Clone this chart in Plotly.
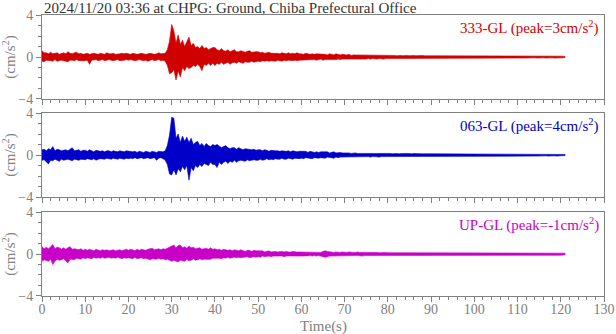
import plotly.graph_objects as go

# Envelope of each record, read every 0.5 s from 0 to 121 s (cm/s^2)
DT = 0.5

ns_hi = [
    0.6,0.4,0.4,0.3,0.45,0.3,0.35,0.4,0.25,0.35,0.4,0.3,0.5,0.35,0.3,0.4,0.45,0.3,0.35,0.25,
    0.3,0.35,0.25,0.3,0.35,0.3,0.25,0.35,0.3,0.25,0.4,0.3,0.3,0.35,0.25,0.25,0.3,0.35,0.3,0.35,
    0.3,0.25,0.35,0.3,0.25,0.3,0.35,0.3,0.25,0.3,0.35,0.3,0.25,0.3,0.4,0.3,0.3,0.35,0.7,1.5,
    3.1,2.5,1.3,2.1,1.2,1.6,1.0,1.4,1.9,1.1,1.3,0.9,1.0,0.8,1.1,0.8,0.9,0.7,0.8,0.9,
    0.9,0.7,0.6,0.8,0.6,0.55,0.7,0.5,0.6,0.7,0.5,0.5,0.6,0.5,0.45,0.55,0.6,0.45,0.5,0.5,
    0.5,0.4,0.45,0.35,0.4,0.45,0.35,0.35,0.4,0.35,0.3,0.4,0.35,0.3,0.4,0.3,0.35,0.3,0.4,0.3,
    0.3,0.25,0.35,0.3,0.25,0.3,0.25,0.3,0.3,0.25,0.3,0.25,0.2,0.3,0.25,0.2,0.3,0.25,0.2,0.25,
    0.2,0.2,0.25,0.15,0.2,0.2,0.2,0.15,0.15,0.2,0.2,0.15,0.2,0.2,0.15,0.2,0.2,0.15,0.2,0.15,
    0.15,0.15,0.2,0.15,0.12,0.15,0.15,0.12,0.15,0.15,0.12,0.15,0.15,0.12,0.15,0.12,0.15,0.12,0.12,0.15,
    0.12,0.12,0.15,0.12,0.12,0.1,0.12,0.12,0.1,0.12,0.12,0.1,0.15,0.12,0.1,0.12,0.1,0.12,0.1,0.12,
    0.1,0.12,0.1,0.1,0.12,0.1,0.1,0.1,0.12,0.1,0.1,0.1,0.12,0.1,0.1,0.1,0.1,0.12,0.1,0.1,
    0.1,0.1,0.08,0.1,0.1,0.1,0.08,0.1,0.1,0.1,0.08,0.1,0.1,0.1,0.08,0.1,0.1,0.08,0.1,0.1,
    0.1,0.08,0.05,
]
ns_lo = [
    -0.4,-0.45,-0.3,-0.3,-0.35,-0.4,-0.25,-0.4,-0.35,-0.3,-0.35,-0.4,-0.45,-0.3,-0.3,-0.35,-0.25,-0.35,-0.3,-0.35,
    -0.35,-0.3,-0.7,-0.3,-0.3,-0.25,-0.35,-0.3,-0.25,-0.35,-0.3,-0.25,-0.3,-0.35,-0.3,-0.25,-0.35,-0.3,-0.3,-0.25,
    -0.3,-0.25,-0.3,-0.35,-0.3,-0.25,-0.3,-0.35,-0.3,-0.4,-0.3,-0.25,-0.35,-0.3,-0.25,-0.35,-0.3,-0.4,-0.8,-1.6,
    -1.5,-1.2,-2.2,-1.3,-1.9,-1.0,-1.3,-0.9,-1.1,-1.0,-0.8,-0.9,-0.7,-0.9,-1.3,-0.7,-0.8,-0.6,-0.8,-0.6,
    -0.8,-0.6,-0.7,-0.5,-0.7,-0.6,-0.5,-0.7,-0.55,-0.5,-0.6,-0.45,-0.5,-0.6,-0.45,-0.5,-0.5,-0.4,-0.5,-0.45,
    -0.4,-0.45,-0.35,-0.4,-0.35,-0.4,-0.35,-0.35,-0.4,-0.3,-0.35,-0.4,-0.3,-0.35,-0.3,-0.3,-0.35,-0.3,-0.35,-0.3,
    -0.3,-0.3,-0.25,-0.25,-0.3,-0.25,-0.25,-0.3,-0.25,-0.2,-0.3,-0.25,-0.2,-0.25,-0.2,-0.25,-0.25,-0.2,-0.25,-0.2,
    -0.2,-0.2,-0.2,-0.15,-0.2,-0.2,-0.15,-0.2,-0.15,-0.2,-0.2,-0.15,-0.2,-0.15,-0.15,-0.2,-0.15,-0.15,-0.2,-0.15,
    -0.15,-0.12,-0.15,-0.15,-0.12,-0.15,-0.12,-0.12,-0.15,-0.15,-0.12,-0.12,-0.15,-0.12,-0.12,-0.15,-0.12,-0.12,-0.12,-0.15,
    -0.12,-0.1,-0.12,-0.12,-0.1,-0.12,-0.12,-0.15,-0.1,-0.12,-0.1,-0.12,-0.1,-0.12,-0.1,-0.12,-0.1,-0.1,-0.12,-0.1,
    -0.1,-0.1,-0.12,-0.1,-0.1,-0.1,-0.12,-0.1,-0.1,-0.1,-0.12,-0.1,-0.1,-0.1,-0.1,-0.12,-0.1,-0.1,-0.1,-0.1,
    -0.1,-0.08,-0.1,-0.1,-0.1,-0.08,-0.1,-0.1,-0.08,-0.1,-0.1,-0.1,-0.08,-0.1,-0.1,-0.1,-0.08,-0.1,-0.1,-0.08,
    -0.1,-0.08,-0.05,
]

ew_hi = [
    0.5,0.55,0.4,0.6,0.5,0.8,0.4,0.55,0.5,0.4,0.45,0.5,0.4,0.55,0.7,0.4,0.45,0.5,0.35,0.45,
    0.45,0.35,0.5,0.4,0.3,0.45,0.4,0.35,0.4,0.3,0.4,0.4,0.3,0.4,0.35,0.3,0.4,0.35,0.3,0.4,
    0.35,0.3,0.3,0.35,0.25,0.35,0.3,0.25,0.35,0.3,0.25,0.35,0.3,0.25,0.35,0.3,0.3,0.4,0.9,1.9,
    3.6,3.5,1.6,2.0,1.2,1.8,1.3,1.7,1.2,1.6,1.0,1.2,1.3,0.9,1.1,0.8,1.1,0.9,0.8,1.0,
    0.9,1.0,0.8,0.7,0.8,0.9,0.7,0.6,0.7,0.7,0.55,0.7,0.6,0.5,0.6,0.55,0.5,0.5,0.55,0.45,
    0.5,0.5,0.4,0.5,0.45,0.35,0.45,0.4,0.4,0.4,0.35,0.4,0.35,0.35,0.4,0.3,0.4,0.35,0.3,0.35,
    0.35,0.3,0.35,0.25,0.35,0.3,0.25,0.3,0.25,0.3,0.3,0.25,0.3,0.2,0.25,0.3,0.2,0.25,0.25,0.2,
    0.2,0.25,0.2,0.15,0.2,0.2,0.15,0.15,0.2,0.2,0.15,0.2,0.15,0.15,0.2,0.15,0.15,0.2,0.15,0.15,
    0.15,0.15,0.12,0.15,0.15,0.12,0.15,0.12,0.15,0.15,0.12,0.12,0.15,0.12,0.15,0.12,0.12,0.15,0.12,0.12,
    0.12,0.12,0.1,0.12,0.12,0.1,0.12,0.1,0.12,0.12,0.1,0.12,0.1,0.1,0.12,0.1,0.12,0.1,0.1,0.12,
    0.1,0.1,0.12,0.1,0.1,0.1,0.1,0.12,0.1,0.1,0.1,0.1,0.1,0.12,0.1,0.1,0.1,0.1,0.1,0.1,
    0.1,0.08,0.1,0.1,0.08,0.1,0.1,0.1,0.08,0.1,0.1,0.08,0.1,0.1,0.1,0.08,0.1,0.1,0.08,0.1,
    0.1,0.08,0.05,
]
ew_lo = [
    -0.5,-0.45,-0.6,-0.85,-0.5,-0.55,-0.4,-0.5,-0.6,-0.4,-0.5,-0.45,-0.4,-0.5,-0.55,-0.4,-0.45,-0.5,-0.4,-0.45,
    -0.45,-0.35,-0.4,-0.45,-0.35,-0.5,-0.4,-0.35,-0.35,-0.4,-0.3,-0.35,-0.4,-0.3,-0.35,-0.4,-0.3,-0.35,-0.4,-0.3,
    -0.35,-0.3,-0.35,-0.25,-0.35,-0.3,-0.25,-0.35,-0.3,-0.25,-0.35,-0.3,-0.25,-0.5,-0.3,-0.25,-0.35,-0.5,-0.9,-1.8,
    -1.9,-1.4,-1.9,-1.3,-1.6,-1.1,-1.4,-1.0,-2.4,-1.2,-1.5,-1.0,-1.2,-0.9,-1.1,-0.8,-0.9,-1.0,-0.7,-0.9,
    -0.9,-1.2,-0.7,-0.9,-0.7,-0.6,-0.8,-0.6,-0.7,-0.5,-0.7,-0.55,-0.5,-0.55,-0.6,-0.45,-0.55,-0.5,-0.45,-0.5,
    -0.5,-0.4,-0.5,-0.45,-0.35,-0.45,-0.4,-0.45,-0.35,-0.4,-0.4,-0.3,-0.4,-0.4,-0.3,-0.35,-0.4,-0.3,-0.35,-0.35,
    -0.3,-0.35,-0.25,-0.3,-0.3,-0.35,-0.25,-0.25,-0.3,-0.25,-0.25,-0.3,-0.2,-0.25,-0.25,-0.3,-0.2,-0.25,-0.2,-0.2,
    -0.2,-0.2,-0.15,-0.2,-0.15,-0.2,-0.2,-0.15,-0.15,-0.2,-0.15,-0.15,-0.2,-0.15,-0.15,-0.15,-0.2,-0.15,-0.15,-0.15,
    -0.15,-0.12,-0.15,-0.15,-0.12,-0.15,-0.12,-0.15,-0.12,-0.12,-0.15,-0.12,-0.12,-0.15,-0.12,-0.12,-0.15,-0.12,-0.12,-0.12,
    -0.12,-0.1,-0.12,-0.12,-0.1,-0.12,-0.1,-0.12,-0.1,-0.12,-0.1,-0.1,-0.12,-0.1,-0.1,-0.12,-0.1,-0.1,-0.12,-0.1,
    -0.1,-0.1,-0.1,-0.12,-0.1,-0.1,-0.1,-0.1,-0.1,-0.12,-0.1,-0.1,-0.1,-0.1,-0.1,-0.12,-0.1,-0.1,-0.1,-0.1,
    -0.08,-0.1,-0.1,-0.08,-0.1,-0.1,-0.08,-0.1,-0.1,-0.1,-0.08,-0.1,-0.1,-0.08,-0.1,-0.1,-0.1,-0.08,-0.1,-0.1,
    -0.08,-0.08,-0.05,
]

ud_hi = [
    0.7,0.5,0.65,0.5,0.7,0.9,0.5,0.65,0.6,0.45,0.6,0.45,0.6,0.7,0.45,0.5,0.45,0.4,0.5,0.35,
    0.45,0.35,0.45,0.4,0.3,0.45,0.4,0.3,0.4,0.35,0.4,0.3,0.35,0.4,0.3,0.35,0.4,0.3,0.4,0.45,
    0.35,0.45,0.4,0.3,0.45,0.35,0.45,0.4,0.35,0.45,0.5,0.55,0.4,0.45,0.5,0.4,0.5,0.45,0.55,0.6,
    0.7,0.85,0.6,0.8,0.85,0.6,0.7,0.55,0.75,0.6,0.65,0.5,0.55,0.6,0.45,0.5,0.55,0.45,0.6,0.45,
    0.5,0.4,0.45,0.35,0.45,0.4,0.35,0.4,0.3,0.4,0.35,0.3,0.4,0.35,0.25,0.35,0.35,0.25,0.35,0.3,
    0.3,0.25,0.3,0.2,0.25,0.3,0.2,0.25,0.25,0.2,0.25,0.25,0.2,0.25,0.2,0.18,0.25,0.2,0.18,0.2,
    0.2,0.18,0.15,0.2,0.18,0.2,0.15,0.2,0.18,0.15,0.25,0.3,0.25,0.2,0.18,0.15,0.2,0.15,0.15,0.2,
    0.15,0.15,0.2,0.15,0.15,0.15,0.2,0.15,0.15,0.15,0.15,0.2,0.15,0.15,0.15,0.15,0.12,0.15,0.15,0.15,
    0.12,0.15,0.12,0.12,0.15,0.12,0.12,0.12,0.15,0.12,0.12,0.15,0.12,0.12,0.12,0.15,0.12,0.12,0.12,0.15,
    0.12,0.12,0.12,0.15,0.12,0.12,0.12,0.12,0.15,0.12,0.12,0.12,0.12,0.12,0.15,0.12,0.12,0.12,0.12,0.12,
    0.12,0.12,0.15,0.12,0.12,0.12,0.12,0.12,0.12,0.15,0.12,0.12,0.12,0.12,0.12,0.12,0.15,0.12,0.12,0.12,
    0.12,0.12,0.12,0.12,0.15,0.12,0.12,0.12,0.12,0.12,0.12,0.15,0.12,0.12,0.12,0.12,0.12,0.15,0.12,0.12,
    0.12,0.12,0.08,
]
ud_lo = [
    -0.7,-0.55,-0.6,-0.7,-0.5,-1.0,-0.7,-0.5,-0.6,-0.55,-0.45,-0.6,-0.85,-0.5,-0.5,-0.55,-0.4,-0.45,-0.5,-0.35,
    -0.45,-0.35,-0.4,-0.45,-0.3,-0.4,-0.35,-0.4,-0.3,-0.4,-0.35,-0.3,-0.4,-0.35,-0.4,-0.3,-0.4,-0.45,-0.35,-0.4,
    -0.35,-0.4,-0.45,-0.3,-0.45,-0.4,-0.35,-0.45,-0.4,-0.5,-0.55,-0.45,-0.45,-0.5,-0.4,-0.5,-0.45,-0.55,-0.5,-0.6,
    -0.7,-0.6,-0.7,-0.75,-0.6,-0.65,-0.7,-0.5,-0.65,-0.6,-0.45,-0.6,-0.55,-0.45,-0.55,-0.5,-0.45,-0.5,-0.5,-0.4,
    -0.45,-0.4,-0.4,-0.45,-0.35,-0.4,-0.3,-0.4,-0.35,-0.3,-0.35,-0.3,-0.35,-0.3,-0.3,-0.25,-0.35,-0.3,-0.25,-0.3,
    -0.25,-0.3,-0.2,-0.25,-0.25,-0.2,-0.25,-0.2,-0.2,-0.25,-0.2,-0.18,-0.25,-0.2,-0.18,-0.2,-0.2,-0.18,-0.2,-0.2,
    -0.2,-0.15,-0.2,-0.18,-0.15,-0.2,-0.15,-0.2,-0.15,-0.2,-0.25,-0.3,-0.25,-0.2,-0.15,-0.2,-0.15,-0.2,-0.15,-0.15,
    -0.15,-0.15,-0.15,-0.2,-0.15,-0.15,-0.15,-0.15,-0.2,-0.15,-0.15,-0.15,-0.15,-0.12,-0.15,-0.15,-0.15,-0.12,-0.15,-0.15,
    -0.12,-0.12,-0.15,-0.12,-0.12,-0.12,-0.15,-0.12,-0.12,-0.12,-0.15,-0.12,-0.12,-0.12,-0.15,-0.12,-0.12,-0.12,-0.12,-0.12,
    -0.12,-0.12,-0.12,-0.12,-0.15,-0.12,-0.12,-0.12,-0.12,-0.12,-0.15,-0.12,-0.12,-0.12,-0.12,-0.12,-0.15,-0.12,-0.12,-0.12,
    -0.12,-0.12,-0.12,-0.12,-0.12,-0.15,-0.12,-0.12,-0.12,-0.12,-0.12,-0.12,-0.15,-0.12,-0.12,-0.12,-0.12,-0.12,-0.12,-0.12,
    -0.12,-0.12,-0.15,-0.12,-0.12,-0.12,-0.12,-0.12,-0.12,-0.15,-0.12,-0.12,-0.12,-0.12,-0.12,-0.15,-0.12,-0.12,-0.12,-0.12,
    -0.12,-0.12,-0.08,
]

labels = ["333-GL (peak=3cm/s<sup>2</sup>)",
          "063-GL (peak=4cm/s<sup>2</sup>)",
          "UP-GL (peak=-1cm/s<sup>2</sup>)"]
colors = ["#d00000", "#0000c8", "#c800c8"]
upper = [ns_hi, ew_hi, ud_hi]
lower = [ns_lo, ew_lo, ud_lo]

title_text = "2024/11/20 03:36 at CHPG: Ground, Chiba Prefectural Office"
x_range = [0, 130]
y_range = [-4, 4]
y_ticks = [-4, 0, 4]
x_label = "Time(s)"
y_label = "(cm/s<sup>2</sup>)"

FONT = "Liberation Serif, Times New Roman, serif"
GRAY = "#808080"
domains = [[0.7011, 1.0], [0.3523, 0.6512], [0.0, 0.2989]]

fig = go.Figure()
for i in range(3):
    n = i + 1
    hi, lo, col = upper[i], lower[i], colors[i]
    m = min(len(hi), len(lo))
    t = [k * DT for k in range(m)]
    xs = t + t[::-1]
    ys = list(hi[:m]) + list(lo[:m])[::-1]
    xn = f"x{n}" if n > 1 else "x"
    yn = f"y{n}" if n > 1 else "y"
    fig.add_trace(go.Scatter(x=xs, y=ys, mode="lines", fill="toself",
                             fillcolor=col, line=dict(color=col, width=0.6),
                             xaxis=xn, yaxis=yn, showlegend=False, hoverinfo="skip"))
    xa = dict(range=x_range, domain=[0, 1], anchor=yn, automargin=False,
              showline=True, mirror=True, linecolor=GRAY, linewidth=1,
              ticks="outside", ticklen=5, tickcolor=GRAY, dtick=10, tick0=0,
              minor=dict(ticks="outside", ticklen=3, dtick=2, tickcolor=GRAY),
              showgrid=False, zeroline=False,
              showticklabels=(n == 3), ticklabelstandoff=-5,
              tickfont=dict(family=FONT, size=14, color=GRAY))
    ya = dict(range=y_range, domain=domains[i], anchor=xn, automargin=False,
              showline=True, mirror=True, linecolor=GRAY, linewidth=1,
              ticks="outside", ticklen=5, tickcolor=GRAY, tickvals=y_ticks,
              minor=dict(ticks="outside", ticklen=3, dtick=1, tick0=0, tickcolor=GRAY),
              showgrid=False, zeroline=False,
              tickfont=dict(family=FONT, size=14, color=GRAY),
              title=dict(text=y_label, font=dict(family=FONT, size=15, color=GRAY), standoff=4))
    fig.layout[f"xaxis{n}" if n > 1 else "xaxis"] = xa
    fig.layout[f"yaxis{n}" if n > 1 else "yaxis"] = ya
    fig.add_annotation(text=labels[i], xref=xn + " domain", yref=yn + " domain",
                       x=1, y=1, xanchor="right", yanchor="top", xshift=-3, yshift=-1,
                       showarrow=False, font=dict(family=FONT, size=15, color=col))

fig.add_annotation(text=x_label, xref="paper", yref="paper", x=0.5, y=-0.107,
                   xanchor="center", yanchor="middle", showarrow=False,
                   font=dict(family=FONT, size=15, color=GRAY))

fig.add_annotation(text=title_text, xref="paper", yref="paper", x=0, y=1,
                   xanchor="left", yanchor="bottom", yshift=-3, showarrow=False,
                   font=dict(family=FONT, size=15, color="#333333"))

fig.update_layout(width=616, height=334, margin=dict(l=42, r=12, t=15, b=38),
                  plot_bgcolor="white", paper_bgcolor="white")
fig.write_html("out.html")
